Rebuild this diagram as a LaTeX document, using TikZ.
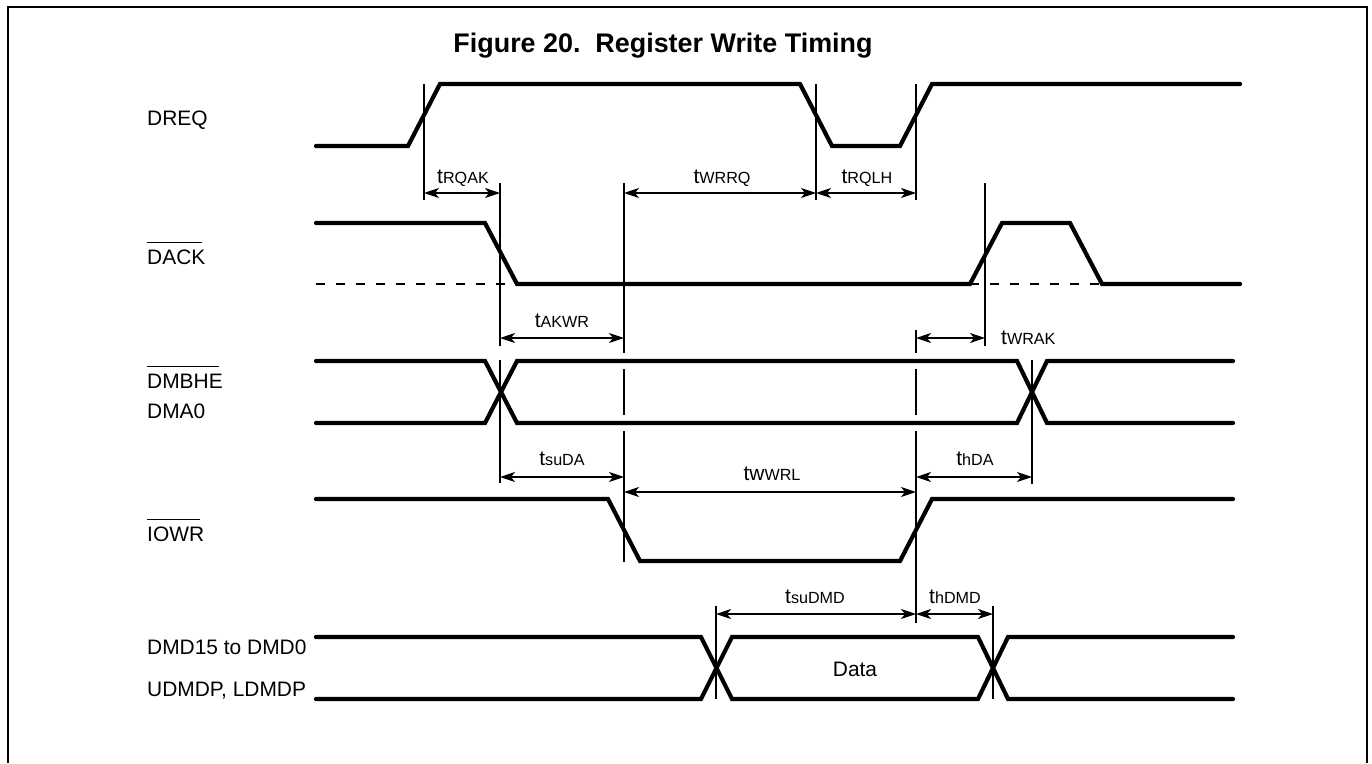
\documentclass[tikz,border=0pt]{standalone}
\usepackage{fontspec}
\setmainfont{Liberation Sans}
\usetikzlibrary{arrows.meta}
\newcommand{\tlab}[2]{\fontsize{21}{21}\selectfont #1\fontsize{16.2}{16.2}\selectfont #2}
\begin{document}
\begin{tikzpicture}[x=1bp,y=-1bp,
  sig/.style={line width=4.2bp, line cap=round, line join=miter},
  thinln/.style={line width=1.3bp},
  dim/.style={line width=1.3bp, {Stealth[length=15bp,width=10bp,inset=4bp]}-{Stealth[length=15bp,width=10bp,inset=4bp]}},
  dashln/.style={line width=2.6bp, dash pattern=on 9bp off 11bp},
  lbl/.style={anchor=base west, inner sep=0, font=\fontsize{21}{21}\selectfont},
  tl/.style={anchor=base, inner sep=0},
  ovl/.style={line width=1bp},
]
\useasboundingbox (0,0) rectangle (1372,763);
% frame
\coordinate (fbl) at (8,763);
\coordinate (ftl) at (8,7);
\coordinate (ftr) at (1367,7);
\coordinate (fbr) at (1367,763);
\draw[line width=2bp] (fbl) -- (ftl) -- (ftr) -- (fbr);
% title
\node[anchor=base, inner sep=0, font=\fontsize{27}{27}\selectfont\bfseries] (title) at (663,53) {Figure 20.\ \ Register Write Timing};
% signal labels
\node[lbl] (dreq) at (147,125) {DREQ};
\node[lbl] (dack) at (147,264) {DACK};
\node[lbl] (dmbhe) at (147,388) {DMBHE};
\node[lbl] (dma0) at (147,418) {DMA0};
\node[lbl] (iowr) at (147,541) {IOWR};
\node[lbl] (dmd) at (147,654) {DMD15 to DMD0};
\node[lbl] (udmdp) at (147,696) {UDMDP, LDMDP};
\draw[ovl] ([yshift=21.5bp]dack.base west) -- ([yshift=21.5bp,xshift=-4bp]dack.base east);
\draw[ovl] ([yshift=21.5bp]dmbhe.base west) -- ([yshift=21.5bp,xshift=-4bp]dmbhe.base east);
\draw[ovl] ([yshift=21.5bp]iowr.base west) -- ([yshift=21.5bp,xshift=-4bp]iowr.base east);
% waveforms
\draw[sig] (316,146) -- (408,146) -- (440,84) -- (800,84) -- (832,146) -- (900,146) -- (932,84) -- (1240,84);
\draw[sig] (316,223) -- (485,223) -- (517,284) -- (970,284) -- (1002,223) -- (1070,223) -- (1102,284) -- (1240,284);
\draw[dashln] (316,284) -- (517,284);
\draw[dashln] (970,284) -- (1102,284);
\draw[sig] (316,361) -- (485,361) -- (517,423) -- (1017,423) -- (1047,361) -- (1233,361);
\draw[sig] (316,423) -- (485,423) -- (517,361) -- (1017,361) -- (1047,423) -- (1233,423);
\draw[sig] (316,499) -- (608,499) -- (640,561) -- (900,561) -- (932,499) -- (1233,499);
\draw[sig] (316,637) -- (701,637) -- (732,699) -- (978,699) -- (1008,637) -- (1233,637);
\draw[sig] (316,699) -- (701,699) -- (732,637) -- (978,637) -- (1008,699) -- (1233,699);
\node[anchor=base, inner sep=0, font=\fontsize{21}{21}\selectfont] (data) at (855,676) {Data};
% reference lines
\draw[thinln] (424,84) -- (424,200);
\draw[thinln] (816,84) -- (816,200);
\draw[thinln] (916,84) -- (916,200);
\draw[thinln] (500,183) -- (500,346);
\draw[thinln] (500,360) -- (500,483);
\draw[thinln] (624,183) -- (624,353);
\draw[thinln] (624,369) -- (624,415);
\draw[thinln] (624,431) -- (624,562);
\draw[thinln] (916,330) -- (916,353);
\draw[thinln] (916,369) -- (916,415);
\draw[thinln] (916,431) -- (916,623);
\draw[thinln] (985,183) -- (985,346);
\draw[thinln] (1032,360) -- (1032,484);
\draw[thinln] (716,606) -- (716,699);
\draw[thinln] (993,606) -- (993,699);
% timing arrows
\coordinate (a1l) at (424,193); \coordinate (a1r) at (500,193);
\coordinate (a2l) at (624,193); \coordinate (a2r) at (816,193);
\coordinate (a3l) at (816,193); \coordinate (a3r) at (916,193);
\coordinate (a4l) at (500,338); \coordinate (a4r) at (624,338);
\coordinate (a5l) at (916,338); \coordinate (a5r) at (985,338);
\coordinate (a6l) at (500,477); \coordinate (a6r) at (624,477);
\coordinate (a7l) at (624,492); \coordinate (a7r) at (916,492);
\coordinate (a8l) at (916,477); \coordinate (a8r) at (1032,477);
\coordinate (a9l) at (716,614); \coordinate (a9r) at (916,614);
\coordinate (a10l) at (916,614); \coordinate (a10r) at (993,614);
\draw[dim] (a1l) -- (a1r);
\draw[dim] (a2l) -- (a2r);
\draw[dim] (a3l) -- (a3r);
\draw[dim] (a4l) -- (a4r);
\draw[dim] (a5l) -- (a5r);
\draw[dim] (a6l) -- (a6r);
\draw[dim] (a7l) -- (a7r);
\draw[dim] (a8l) -- (a8r);
\draw[dim] (a9l) -- (a9r);
\draw[dim] (a10l) -- (a10r);
% timing labels
\node[tl] (l1) at (463,183) {\tlab{t}{RQAK}};
\node[tl] (l2) at (722,183) {\tlab{t}{WRRQ}};
\node[tl] (l3) at (867,183) {\tlab{t}{RQLH}};
\node[tl] (l4) at (562,327) {\tlab{t}{AKWR}};
\node[anchor=base west, inner sep=0] (l5) at (1001,344) {\tlab{t}{WRAK}};
\node[tl] (l6) at (562,465) {\tlab{t}{suDA}};
\node[tl] (l7) at (772,480) {\tlab{tw}{WRL}};
\node[tl] (l8) at (975,465) {\tlab{t}{hDA}};
\node[tl] (l9) at (815,603) {\tlab{t}{suDMD}};
\node[tl] (l10) at (955,603) {\tlab{t}{hDMD}};
\end{tikzpicture}
\end{document}
